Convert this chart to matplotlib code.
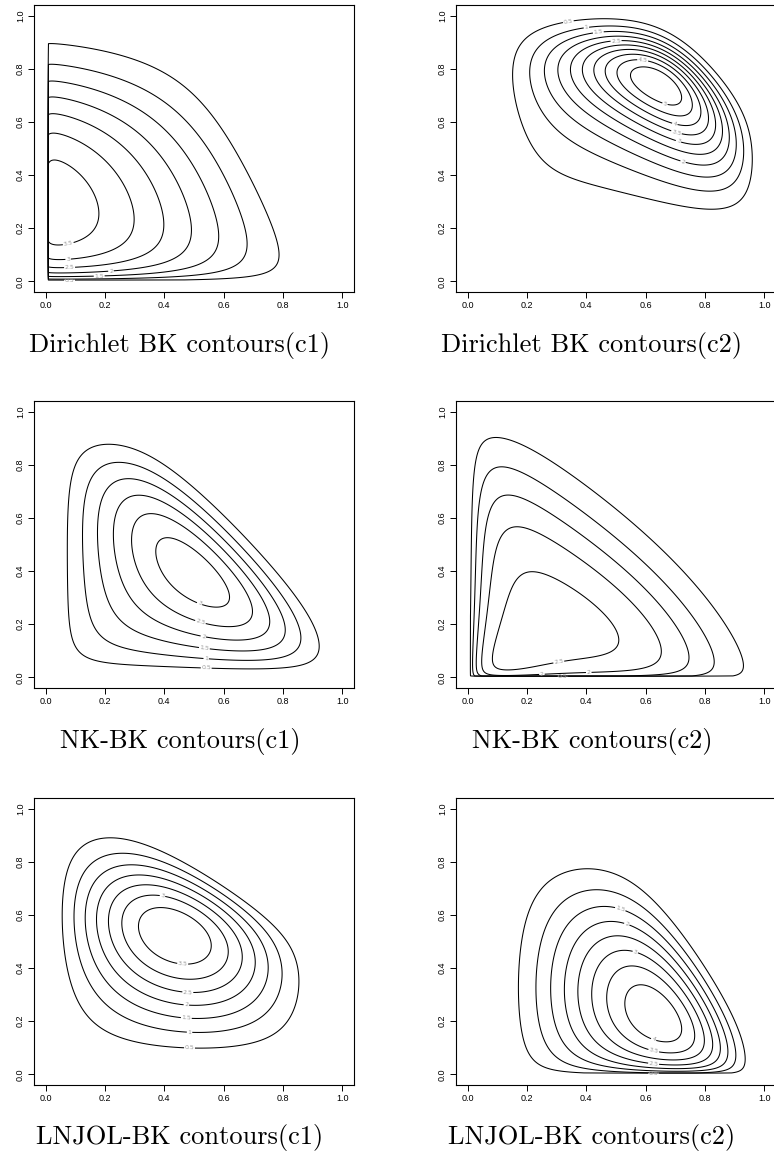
import numpy as np
import matplotlib
matplotlib.use("Agg")
import matplotlib.pyplot as plt

# contour crossing points: (level, x, y); last one = peak
p1_pts = [(3.5,0.047,0.446),(3.5,0.137,0.392),(3.5,0.181,0.33),(3.5,0.202,0.254),(3.5,0.159,0.192),(3.5,0.125,0.154),(3.5,0.075,0.145),
          (3,0.03,0.545),(3,0.125,0.505),(3,0.237,0.38),(3,0.299,0.223),(3,0.249,0.129),(3,0.075,0.088),
          (2.5,0.03,0.624),(2.5,0.181,0.574),(2.5,0.327,0.417),(2.5,0.392,0.204),(2.5,0.293,0.091),(2.5,0.08,0.053),
          (2,0.03,0.693),(2,0.215,0.637),(2,0.405,0.467),(2,0.484,0.192),(2,0.36,0.066),(2,0.22,0.035),
          (1.5,0.03,0.762),(1.5,0.249,0.706),(1.5,0.473,0.53),(1.5,0.579,0.16),(1.5,0.405,0.035),(1.5,0.18,0.019),
          (1,0.03,0.827),(1,0.282,0.768),(1,0.54,0.58),(1,0.676,0.142),(1,0.517,0.023),(1,0.293,0.01),
          (0.5,0.04,0.897),(0.5,0.198,0.80),(0.5,0.405,0.643),(0.5,0.599,0.505),(0.5,0.699,0.355),(0.5,0.792,0.091),(0.5,0.629,0.012),(0.5,0.293,0.005),
          (3.85,0.06,0.28)]
p2_pts = [(0.5,0.149,0.806),(0.5,0.166,0.656),(0.5,0.245,0.505),(0.5,0.413,0.355),(0.5,0.717,0.277),(0.5,0.908,0.33),(0.5,0.961,0.48),(0.5,0.863,0.743),(0.5,0.75,0.88),(0.5,0.34,0.971),
          (1,0.211,0.806),(1,0.402,0.956),(1,0.93,0.50),(1,0.729,0.348),
          (1.5,0.256,0.806),(1.5,0.442,0.94),(1.5,0.908,0.52),(1.5,0.728,0.405),
          (2,0.301,0.812),(2,0.47,0.925),(2,0.885,0.555),(2,0.726,0.449),
          (2.5,0.346,0.812),(2.5,0.503,0.909),(2.5,0.863,0.58),(2.5,0.722,0.486),
          (3,0.391,0.812),(3,0.537,0.887),(3,0.835,0.605),(3,0.71,0.524),
          (3.5,0.436,0.806),(3.5,0.56,0.868),(3.5,0.812,0.63),(3.5,0.705,0.564),
          (4,0.475,0.80),(4,0.576,0.85),(4,0.784,0.655),(4,0.703,0.599),
          (4.5,0.503,0.787),(4.5,0.593,0.831),(4.5,0.751,0.693),(4.5,0.672,0.643),
          (5,0.52,0.749),(5,0.627,0.80),(5,0.72,0.743),(5,0.672,0.687),
          (5.4,0.62,0.745)]
p3_pts = [(0.5,0.068,0.506),(0.5,0.104,0.795),(0.5,0.261,0.868),(0.5,0.574,0.644),(0.5,0.899,0.217),(0.5,0.854,0.054),(0.5,0.541,0.031),(0.5,0.138,0.092),
          (1,0.127,0.506),(1,0.29,0.804),(1,0.841,0.217),(1,0.541,0.069),(1,0.574,0.58),(1,0.194,0.129),
          (1.5,0.171,0.519),(1.5,0.32,0.747),(1.5,0.796,0.242),(1.5,0.535,0.11),(1.5,0.56,0.53),
          (2,0.235,0.531),(2,0.35,0.688),(2,0.742,0.268),(2,0.532,0.155),
          (2.5,0.30,0.544),(2.5,0.37,0.623),(2.5,0.689,0.318),(2.5,0.524,0.217),
          (3,0.378,0.443),(3,0.43,0.54),(3,0.614,0.381),(3,0.524,0.293),
          (3.3,0.49,0.41)]
p4_pts = [(0.5,0.071,0.898),(0.5,0.296,0.795),(0.5,0.52,0.632),(0.5,0.745,0.368),(0.5,0.857,0.217),(0.5,0.925,0.041),
          (1,0.088,0.795),(1,0.408,0.594),(1,0.633,0.381),(1,0.84,0.054),(1,0.028,0.4),
          (1.5,0.127,0.68),(1.5,0.408,0.519),(1.5,0.633,0.293),(1.5,0.75,0.104),(1.5,0.043,0.4),
          (2,0.183,0.55),(2,0.408,0.443),(2,0.638,0.11),(2,0.071,0.3),(2,0.408,0.019),
          (2.5,0.217,0.393),(2.5,0.492,0.155),(2.5,0.307,0.057),(2.5,0.127,0.242),
          (2.8,0.25,0.2)]
p5_pts = [(0.5,0.054,0.558),(0.5,0.272,0.883),(0.5,0.63,0.682),(0.5,0.851,0.395),(0.5,0.407,0.104),(0.5,0.115,0.282),(0.5,0.798,0.182),(0.5,0.082,0.772),
          (1,0.095,0.533),(1,0.278,0.838),(1,0.798,0.395),(1,0.485,0.159),
          (1.5,0.135,0.52),(1.5,0.306,0.784),(1.5,0.751,0.408),(1.5,0.474,0.211),
          (2,0.177,0.508),(2,0.339,0.74),(2,0.707,0.446),(2,0.474,0.258),
          (2.5,0.222,0.502),(2.5,0.362,0.716),(2.5,0.658,0.458),(2.5,0.479,0.306),
          (3,0.27,0.502),(3,0.395,0.681),(3,0.614,0.483),(3,0.474,0.355),
          (3.5,0.33,0.533),(3.5,0.405,0.634),(3.5,0.558,0.508),(3.5,0.462,0.419),
          (3.8,0.44,0.53)]
p6_pts = [(0.5,0.442,0.768),(0.5,0.166,0.301),(0.5,0.925,0.113),(0.5,0.239,0.678),(0.5,0.745,0.489),(0.5,0.857,0.301),(0.5,0.217,0.063),
          (1,0.498,0.688),(1,0.231,0.28),(1,0.897,0.12),
          (1.5,0.515,0.624),(1.5,0.284,0.28),(1.5,0.874,0.13),(1.5,0.6,0.015),
          (2,0.537,0.567),(2,0.335,0.27),(2,0.852,0.14),(2,0.6,0.025),
          (2.5,0.543,0.514),(2.5,0.38,0.26),(2.5,0.824,0.15),(2.5,0.627,0.041),
          (3,0.565,0.46),(3,0.417,0.25),(3,0.796,0.16),(3,0.627,0.063),
          (3.5,0.571,0.404),(3.5,0.462,0.24),(3.5,0.758,0.17),(3.5,0.627,0.088),
          (4,0.593,0.339),(4,0.52,0.232),(4,0.70,0.213),(4,0.627,0.131),
          (4.3,0.62,0.23)]

# where R put the inline contour labels
p1_lab = [(0.075,0.145),(0.075,0.088),(0.08,0.053),(0.22,0.035),(0.18,0.019),(0.08,0.004)]
p2_lab = [(0.34,0.971),(0.40,0.956),(0.44,0.94),(0.50,0.909),(0.59,0.831),(0.67,0.687),(0.70,0.599),(0.705,0.564),(0.71,0.524),(0.726,0.449)]
p3_lab = [(0.524,0.293),(0.524,0.217),(0.532,0.157),(0.535,0.11),(0.541,0.069),(0.541,0.029)]
p4_lab = [(0.307,0.057),(0.408,0.019),(0.25,0.01),(0.32,0.003)]
p5_lab = [(0.462,0.419),(0.395,0.681),(0.479,0.306),(0.474,0.258),(0.474,0.211),(0.485,0.159),(0.485,0.104)]
p6_lab = [(0.515,0.624),(0.537,0.567),(0.565,0.46),(0.627,0.131),(0.627,0.087),(0.627,0.041),(0.627,0.004)]

titles = ["Dirichlet BK contours(c1)", "Dirichlet BK contours(c2)",
          "NK-BK contours(c1)", "NK-BK contours(c2)",
          "LNJOL-BK contours(c1)", "LNJOL-BK contours(c2)"]
levels = [np.arange(0.5, 3.51, 0.5), np.arange(0.5, 5.01, 0.5), np.arange(0.5, 3.01, 0.5),
          np.arange(0.5, 2.51, 0.5), np.arange(0.5, 3.51, 0.5), np.arange(0.5, 4.01, 0.5)]
# estimate is zero left of / below these (grid edge of the original)
masks = [(0.008, 0.004), (0, 0), (0, 0), (0.008, 0.004), (0, 0), (0, 0.004)]

AB = [0.95, 1.0, 1.05, 1.1, 1.2, 1.35, 1.6, 2.0, 1e3]
CD = [1.0, 1.02, 1.05, 1.1, 1.2, 1.5, 1e3]
NEXP = [1, 2, 3, 4, 5]


def cols(x, y, a, b, c, d):
    with np.errstate(divide="ignore", invalid="ignore"):
        return np.stack([np.ones_like(x), np.log(x), np.log(y), np.log(1 - x / a - y / b),
                         np.log(1 - x / c), np.log(1 - y / d), x, y, x * x, y * y, x * y], -1)


def fit(pts):
    # smooth generalised-Dirichlet surface through the read points (log scale)
    P = np.array(pts)
    lev, x, y = P[:, 0], P[:, 1], P[:, 2]
    wt = np.sqrt(lev)
    L = np.log(lev) * wt
    best = (1e9, None, None)
    for a in AB:
        for b in AB:
            if np.any(1 - x / a - y / b <= 0.005):
                continue
            for c in CD:
                if np.any(1 - x / c <= 0.005):
                    continue
                for d in CD:
                    if np.any(1 - y / d <= 0.005):
                        continue
                    M = cols(x, y, a, b, c, d) * wt[:, None]
                    act = list(range(11))
                    for _ in range(6):
                        coef = np.linalg.lstsq(M[:, act], L, rcond=None)[0]
                        neg = [(coef[i], act[i]) for i in range(len(act)) if act[i] in NEXP and coef[i] < 0]
                        if not neg:
                            break
                        act.remove(min(neg)[1])
                    else:
                        continue
                    full = np.zeros(11)
                    full[act] = coef
                    res = np.sum((M @ full - L) ** 2)
                    if res < best[0]:
                        best = (res, (a, b, c, d), full)
    return best[1], best[2]


def density(x, y, geo, coef):
    M = cols(x, y, *geo)
    out = np.zeros_like(x)
    for j in range(11):
        if coef[j] != 0:
            out = out + np.nan_to_num(M[..., j], nan=-1e6, neginf=-1e6) * coef[j]
    return np.exp(np.clip(out, -60, 60))


fig = plt.figure(figsize=(7.74, 11.65), dpi=100)
g = np.linspace(0.0005, 0.9995, 600)
GX, GY = np.meshgrid(g, g)
lefts = [34, 456]
bottoms = [292, 688, 1085]
all_pts = [p1_pts, p2_pts, p3_pts, p4_pts, p5_pts, p6_pts]
all_lab = [p1_lab, p2_lab, p3_lab, p4_lab, p5_lab, p6_lab]
for i in range(6):
    r, cc = divmod(i, 2)
    ax = fig.add_axes([lefts[cc] / 774, 1 - bottoms[r] / 1165, 320 / 774, 287 / 1165])
    geo, coef = fit(all_pts[i])
    F = density(GX, GY, geo, coef)
    F[(GX < masks[i][0]) | (GY < masks[i][1])] = 0
    cs = ax.contour(GX, GY, F, levels=levels[i], colors="black", linewidths=0.75)
    ax.clabel(cs, fmt="%g", fontsize=4.5, colors="#999999", inline=True, inline_spacing=1,
              manual=all_lab[i])
    ax.set_xlim(-0.04, 1.04)
    ax.set_ylim(-0.04, 1.04)
    ticks = np.arange(0, 1.01, 0.2)
    ax.set_xticks(ticks)
    ax.set_yticks(ticks)
    ax.set_xticklabels(["%.1f" % t for t in ticks], fontsize=6.5, family="Liberation Sans")
    ax.set_yticklabels(["%.1f" % t for t in ticks], fontsize=6.5, family="Liberation Sans", rotation=90, va="center")
    ax.tick_params(length=4, width=0.7, pad=2.5)
    for s in ax.spines.values():
        s.set_linewidth(0.8)
    xc = [180, 592][cc]
    fig.text(xc / 774, 1 - [352, 748, 1144][r] / 1165, titles[i], ha="center", va="baseline",
             fontsize=19, family="cmr10")

fig.savefig("out.png", dpi=100)
